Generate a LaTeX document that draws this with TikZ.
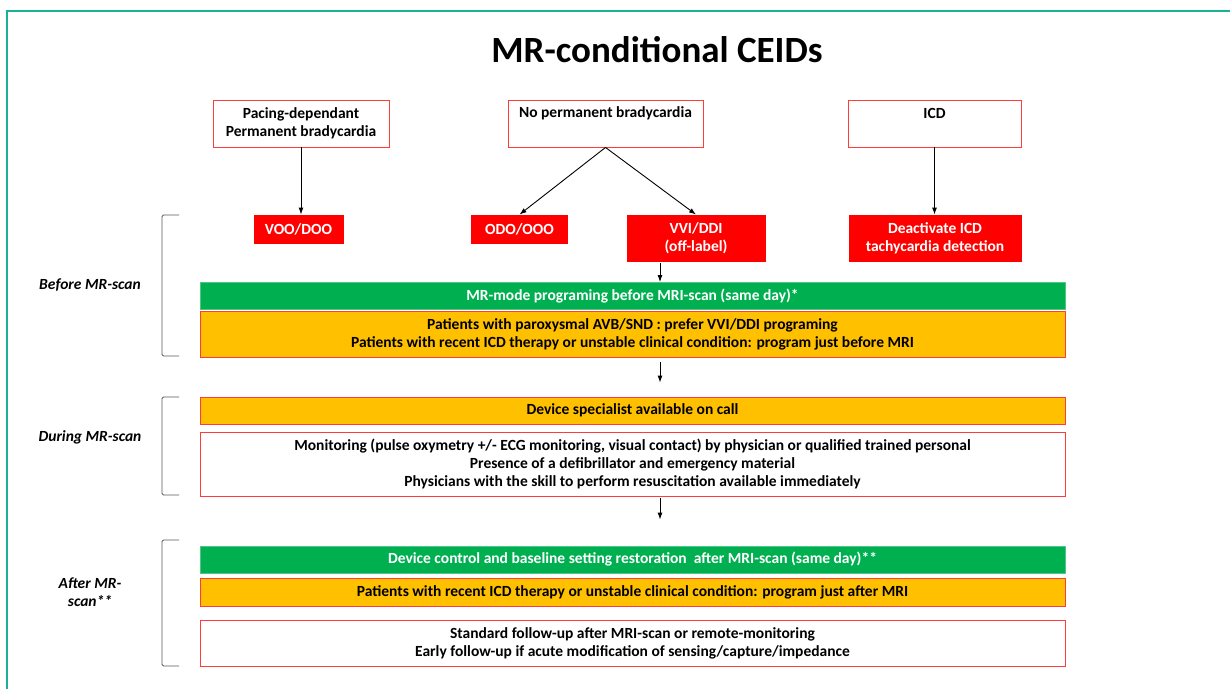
\documentclass[tikz,border=0pt]{standalone}
\usepackage{fontspec}
\setmainfont{Carlito}
\usetikzlibrary{arrows.meta}
\definecolor{frameteal}{RGB}{24,178,150}
\definecolor{boxred}{RGB}{255,60,60}
\definecolor{fillred}{RGB}{255,0,0}
\definecolor{mrgreen}{RGB}{0,176,80}
\definecolor{mrorange}{RGB}{255,192,0}
\begin{document}
\begin{tikzpicture}[x=1pt,y=-1pt,
  base/.style={font=\bfseries\fontsize{15.5}{18}\selectfont, align=center, inner sep=0pt, line width=0.9pt},
  wbox/.style={base, draw=boxred, fill=white},
  rbox/.style={base, draw=fillred, fill=fillred, text=white},
  gbox/.style={base, draw=mrgreen!70, fill=mrgreen, text=white, minimum width=865},
  obox/.style={base, draw=boxred, fill=mrorange, minimum width=865},
  wide/.style={wbox, minimum width=865},
  txt/.style={base},
  arr/.style={-{Latex[length=7pt,width=5pt]}, line width=0.9pt},
  brk/.style={draw=black!65, line width=0.9pt, rounded corners=1.5pt},
  phase/.style={font=\bfseries\itshape\fontsize{15.5}{18}\selectfont, align=center, inner sep=0pt}
]
\useasboundingbox (0,0) rectangle (1230,689);
\draw[frameteal, line width=2pt] (7,689) -- (7,11) -- (1230,11);

\node[font=\bfseries\fontsize{37}{40}\selectfont, inner sep=0pt] (title) at (657,50) {MR-conditional CEIDs};

% top boxes
\node[wbox, minimum width=176, minimum height=47] (pace) at (301,123.5) {Pacing-dependant\\Permanent bradycardia};
\node[wbox, minimum width=195, minimum height=47] (nobrady) at (605.5,123.5) {};
\node[txt] (nobradyt) at (605.5,113) {No permanent bradycardia};
\node[wbox, minimum width=173, minimum height=47] (icd) at (934.5,123.5) {};
\node[txt] (icdt) at (934.5,113) {ICD};

% red boxes
\node[rbox, minimum width=89, minimum height=28] (voo) at (298.5,229) {VOO/DOO};
\node[rbox, minimum width=96, minimum height=28] (odo) at (519.5,229) {ODO/OOO};
\node[rbox, minimum width=138, minimum height=46] (vvi) at (696,238) {VVI/DDI\\(off-label)};
\node[rbox, minimum width=172, minimum height=46] (deact) at (935,238) {Deactivate ICD\\tachycardia detection};

\draw[arr] (pace.south) -- (pace.south |- voo.north);
\draw[arr] (nobrady.south) -- (odo.north);
\draw[arr] (nobrady.south) -- (vvi.north);
\draw[arr] (icd.south) -- (icd.south |- deact.north);

% before
\node[gbox, minimum height=27] (mr1) at (632.5,296) {MR-mode programing before MRI-scan (same day)*};
\node[obox, minimum height=46] (ob1) at (632.5,334) {Patients with paroxysmal AVB/SND : prefer VVI/DDI programing\\Patients with recent ICD therapy or unstable clinical condition: program just before MRI};

% during
\node[obox, minimum height=27] (ob2) at (632.5,410.5) {Device specialist available on call};
\node[wide, minimum height=64] (w1) at (632.5,464) {Monitoring (pulse oxymetry +/- ECG monitoring, visual contact) by physician or qualified trained personal\\Presence of a defibrillator and emergency material\\Physicians with the skill to perform resuscitation available immediately};

% after
\node[gbox, minimum height=27] (mr2) at (632.5,559.5) {Device control and baseline setting restoration\ \ after MRI-scan (same day)**};
\node[obox, minimum height=28] (ob3) at (632.5,592.5) {Patients with recent ICD therapy or unstable clinical condition: program just after MRI};
\node[wide, minimum height=46] (w2) at (632.5,643) {Standard follow-up after MRI-scan or remote-monitoring\\Early follow-up if acute modification of sensing/capture/impedance};

% vertical arrows
\coordinate (ax) at (660,0);
\draw[arr, shorten <=2pt] (vvi.south -| ax) -- (mr1.north -| ax);
\draw[arr, shorten <=5pt, shorten >=14pt] (ob1.south -| ax) -- (ob2.north -| ax);
\draw[arr, shorten <=2pt, shorten >=26pt] (w1.south -| ax) -- (mr2.north -| ax);

% brackets
\draw[brk] (179,215) -- (162,215) -- (162,356) -- (179,356);
\draw[brk] (179,397) -- (162,397) -- (162,495) -- (179,495);
\draw[brk] (179,540) -- (162,540) -- (162,666) -- (179,666);

% phase labels
\node[phase] (before) at (90,285) {Before MR-scan};
\node[phase] (during) at (90,437) {During MR-scan};
\node[phase] (after) at (90,592) {After MR-\\scan**};
\end{tikzpicture}
\end{document}
